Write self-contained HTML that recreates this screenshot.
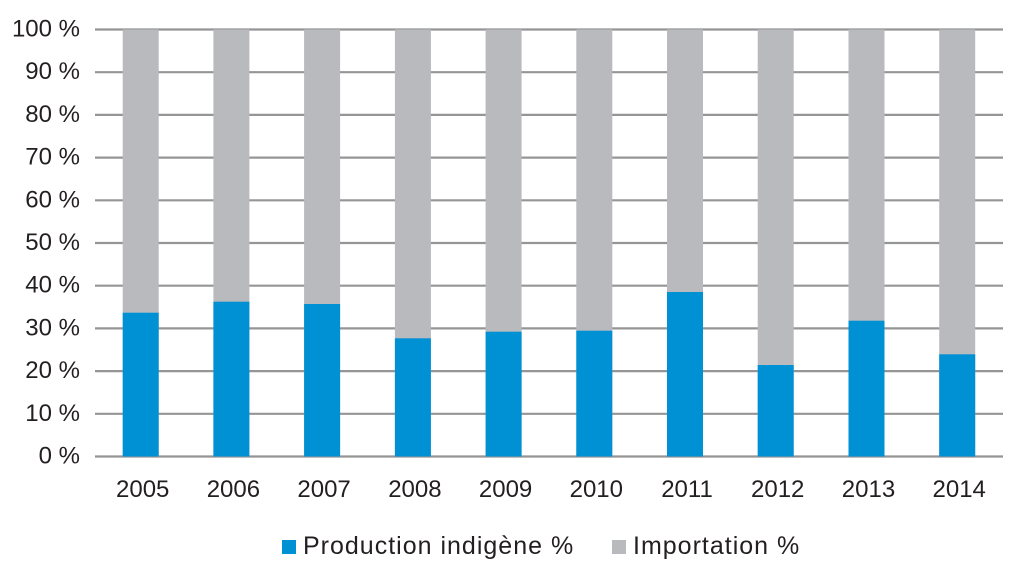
<!DOCTYPE html>
<html>
<head>
<meta charset="utf-8">
<style>
html,body{margin:0;padding:0;background:#fff;}
body{width:1024px;height:575px;overflow:hidden;}
svg{display:block;}
text{font-family:"Liberation Sans",sans-serif;fill:#231f20;}
</style>
</head>
<body>
<svg width="1024" height="575" viewBox="0 0 1024 575" xmlns="http://www.w3.org/2000/svg">
  <!-- gridlines -->
  <g stroke="#959595" stroke-width="2.2">
    <line x1="95" x2="1003" y1="29.5" y2="29.5"/>
    <line x1="95" x2="1003" y1="72.2" y2="72.2"/>
    <line x1="95" x2="1003" y1="114.9" y2="114.9"/>
    <line x1="95" x2="1003" y1="157.6" y2="157.6"/>
    <line x1="95" x2="1003" y1="200.3" y2="200.3"/>
    <line x1="95" x2="1003" y1="243" y2="243"/>
    <line x1="95" x2="1003" y1="285.7" y2="285.7"/>
    <line x1="95" x2="1003" y1="328.4" y2="328.4"/>
    <line x1="95" x2="1003" y1="371.1" y2="371.1"/>
    <line x1="95" x2="1003" y1="413.8" y2="413.8"/>
    <line x1="95" x2="1003" y1="456.5" y2="456.5"/>
  </g>
  <!-- y labels -->
  <g font-size="24" text-anchor="end">
    <text x="80" y="36.5">100 %</text>
    <text x="80" y="79.2">90 %</text>
    <text x="80" y="121.9">80 %</text>
    <text x="80" y="164.6">70 %</text>
    <text x="80" y="207.3">60 %</text>
    <text x="80" y="250">50 %</text>
    <text x="80" y="292.7">40 %</text>
    <text x="80" y="335.4">30 %</text>
    <text x="80" y="378.1">20 %</text>
    <text x="80" y="420.8">10 %</text>
    <text x="80" y="463.5">0 %</text>
  </g>
  <!-- gray bars (importation, full to 100%) -->
  <g fill="#b9babe">
    <rect x="122.7" y="29.5" width="36" height="427"/>
    <rect x="213.4" y="29.5" width="36" height="427"/>
    <rect x="304.1" y="29.5" width="36" height="427"/>
    <rect x="394.9" y="29.5" width="36" height="427"/>
    <rect x="485.6" y="29.5" width="36" height="427"/>
    <rect x="576.3" y="29.5" width="36" height="427"/>
    <rect x="667.0" y="29.5" width="36" height="427"/>
    <rect x="757.7" y="29.5" width="36" height="427"/>
    <rect x="848.5" y="29.5" width="36" height="427"/>
    <rect x="939.2" y="29.5" width="36" height="427"/>
  </g>
  <!-- blue bars (production) -->
  <g fill="#0091d5">
    <rect x="122.7" y="312.7" width="36" height="143.8"/>
    <rect x="213.4" y="301.7" width="36" height="154.8"/>
    <rect x="304.1" y="304" width="36" height="152.5"/>
    <rect x="394.9" y="338.3" width="36" height="118.2"/>
    <rect x="485.6" y="331.7" width="36" height="124.8"/>
    <rect x="576.3" y="330.7" width="36" height="125.8"/>
    <rect x="667.0" y="292" width="36" height="164.5"/>
    <rect x="757.7" y="365" width="36" height="91.5"/>
    <rect x="848.5" y="320.7" width="36" height="135.8"/>
    <rect x="939.2" y="354.3" width="36" height="102.2"/>
  </g>
  <!-- x labels -->
  <g font-size="24" text-anchor="middle">
    <text x="142.7" y="497">2005</text>
    <text x="233.4" y="497">2006</text>
    <text x="324.1" y="497">2007</text>
    <text x="414.9" y="497">2008</text>
    <text x="505.6" y="497">2009</text>
    <text x="596.3" y="497">2010</text>
    <text x="687.0" y="497">2011</text>
    <text x="777.7" y="497">2012</text>
    <text x="868.5" y="497">2013</text>
    <text x="959.2" y="497">2014</text>
  </g>
  <!-- legend -->
  <rect x="282" y="540" width="14" height="14" fill="#0091d5"/>
  <text x="303" y="554" font-size="25" letter-spacing="1">Production indigène %</text>
  <rect x="612" y="540" width="14" height="14" fill="#b9babe"/>
  <text x="633" y="554" font-size="25" letter-spacing="1">Importation %</text>
</svg>
</body>
</html>
